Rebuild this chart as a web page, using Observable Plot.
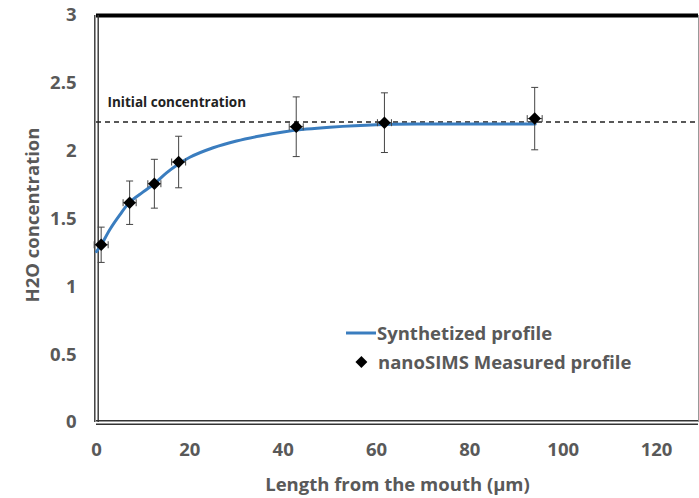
<!DOCTYPE html>
<html>
<head>
<meta charset="utf-8">
<script src="https://cdn.jsdelivr.net/npm/d3@7"></script>
<script src="https://cdn.jsdelivr.net/npm/@observablehq/plot@0.6"></script>
<style>
  html, body { margin: 0; padding: 0; background: #fff; }
  #wrap { position: relative; width: 699px; height: 498px; overflow: hidden; font-family: "Open Sans", sans-serif; }
  #legend { position: absolute; left: 346px; top: 318px; font-weight: 700; font-size: 18.5px; color: #595959; }
  #legend .row { display: flex; align-items: center; height: 29px; white-space: nowrap; }
</style>
</head>
<body>
<div id="wrap"></div>
<script>
// Measured profile (nanoSIMS)
const xMeasured = [1.0, 7.1, 12.4, 17.6, 42.8, 61.7, 93.9];
const yMeasured = [1.31, 1.62, 1.76, 1.92, 2.18, 2.21, 2.24];
const yErr = [0.13, 0.16, 0.18, 0.19, 0.22, 0.22, 0.23];
const xErr = [1.5, 1.4, 1.4, 1.5, 1.5, 1.5, 1.6];

// Synthetized profile
const xCurve = [0, 1, 3, 5, 7, 10, 12.4, 15, 17.6, 20, 25, 30, 35, 40, 45, 50, 60, 70, 80, 94];
const yCurve = [1.26, 1.31, 1.43, 1.53, 1.62, 1.70, 1.76, 1.84, 1.905, 1.955, 2.025, 2.075, 2.112, 2.142, 2.163, 2.177, 2.195, 2.2, 2.2, 2.2];

const initialConcentration = 2.215;
const xTicks = [0, 20, 40, 60, 80, 100, 120];
const yTicks = [0, 0.5, 1, 1.5, 2, 2.5, 3];
const xLabel = "Length from the mouth (µm)";
const yLabel = "H2O concentration";
const initialLabel = "Initial concentration";
const seriesNames = ["Synthetized profile", "nanoSIMS Measured profile"];

const measured = xMeasured.map((x, i) => ({x, y: yMeasured[i], ey: yErr[i], ex: xErr[i]}));
const curve = xCurve.map((x, i) => ({x, y: yCurve[i]}));

const hCap = {draw(ctx, size) { const r = Math.sqrt(size / Math.PI); ctx.moveTo(-r, 0); ctx.lineTo(r, 0); }};
const vCap = {draw(ctx, size) { const r = Math.sqrt(size / Math.PI); ctx.moveTo(0, -r); ctx.lineTo(0, r); }};

const gray = "#595959";
const errColor = "#444";
const fs = 18.5;

const chart = Plot.plot({
  width: 699,
  height: 498,
  marginLeft: 96,
  marginRight: 1,
  marginTop: 15,
  marginBottom: 76,
  style: {fontFamily: "'Open Sans', sans-serif", background: "#fff", overflow: "visible"},
  x: {domain: [0, 129]},
  y: {domain: [0, 3]},
  marks: [
    Plot.axisY({ticks: yTicks, tickSize: 0, tickPadding: 20, tickFormat: d => String(d), label: null,
      fontSize: fs, fontWeight: 700, color: gray}),
    Plot.axisX({ticks: xTicks, tickSize: 0, tickPadding: 20, tickFormat: d => String(d), label: null,
      fontSize: fs, fontWeight: 700, color: gray}),
    // frame
    Plot.ruleY([3], {stroke: "#000", strokeWidth: 4}),
    Plot.ruleX([129], {stroke: "#999", strokeWidth: 1}),
    Plot.ruleY([0], {stroke: "#333", strokeWidth: 1.4, dy: -1.7}),
    Plot.ruleY([0], {stroke: "#333", strokeWidth: 1.4, dy: 1.7}),
    Plot.ruleX([0], {stroke: "#333", strokeWidth: 1.4, dx: -1.7}),
    Plot.ruleX([0], {stroke: "#333", strokeWidth: 1.4, dx: 1.7}),
    // initial concentration
    Plot.ruleY([initialConcentration], {stroke: "#222", strokeWidth: 1.3, strokeDasharray: "5,4"}),
    Plot.text([initialConcentration], {x: () => 0, y: d => d, text: () => initialLabel, textAnchor: "start",
      dx: 11, dy: -19, fontSize: 13.5, fontWeight: 700, fill: "#222"}),
    // synthetized profile
    Plot.line(curve, {x: "x", y: "y", stroke: "#3A7DBF", strokeWidth: 3, curve: "catmull-rom"}),
    // error bars
    Plot.link(measured, {x1: "x", x2: "x", y1: d => d.y - d.ey, y2: d => d.y + d.ey, stroke: errColor, strokeWidth: 1}),
    Plot.link(measured, {x1: d => d.x - d.ex, x2: d => d.x + d.ex, y1: "y", y2: "y", stroke: errColor, strokeWidth: 1}),
    Plot.dot(measured, {x: "x", y: d => d.y - d.ey, symbol: hCap, r: 3.5, stroke: errColor, strokeWidth: 1}),
    Plot.dot(measured, {x: "x", y: d => d.y + d.ey, symbol: hCap, r: 3.5, stroke: errColor, strokeWidth: 1}),
    Plot.dot(measured, {x: d => d.x - d.ex, y: "y", symbol: vCap, r: 3.5, stroke: errColor, strokeWidth: 1}),
    Plot.dot(measured, {x: d => d.x + d.ex, y: "y", symbol: vCap, r: 3.5, stroke: errColor, strokeWidth: 1}),
    Plot.dot(measured, {x: "x", y: "y", symbol: "square", rotate: 45, r: 5, fill: "#000", stroke: "none"}),
    // axis titles
    Plot.text([xLabel], {frameAnchor: "bottom", dy: 63, lineAnchor: "middle", textAnchor: "middle", text: d => d,
      fontSize: fs, fontWeight: 700, fill: gray}),
    Plot.text([yLabel], {frameAnchor: "left", dx: -63, dy: -4, rotate: -90, lineAnchor: "middle", textAnchor: "middle",
      text: d => d, fontSize: fs, fontWeight: 700, fill: gray})
  ]
});

const wrap = document.getElementById("wrap");
wrap.appendChild(chart);

const legend = document.createElement("div");
legend.id = "legend";
legend.innerHTML = `
  <div class="row"><svg width="31" height="10"><line x1="0" x2="30" y1="5" y2="5" stroke="#3A7DBF" stroke-width="3"/></svg><span>${seriesNames[0]}</span></div>
  <div class="row"><svg width="32" height="14"><rect x="11.2" y="2.8" width="8.4" height="8.4" fill="#000" transform="rotate(45 15.4 7)"/></svg><span>${seriesNames[1]}</span></div>`;
wrap.appendChild(legend);
</script>
</body>
</html>
